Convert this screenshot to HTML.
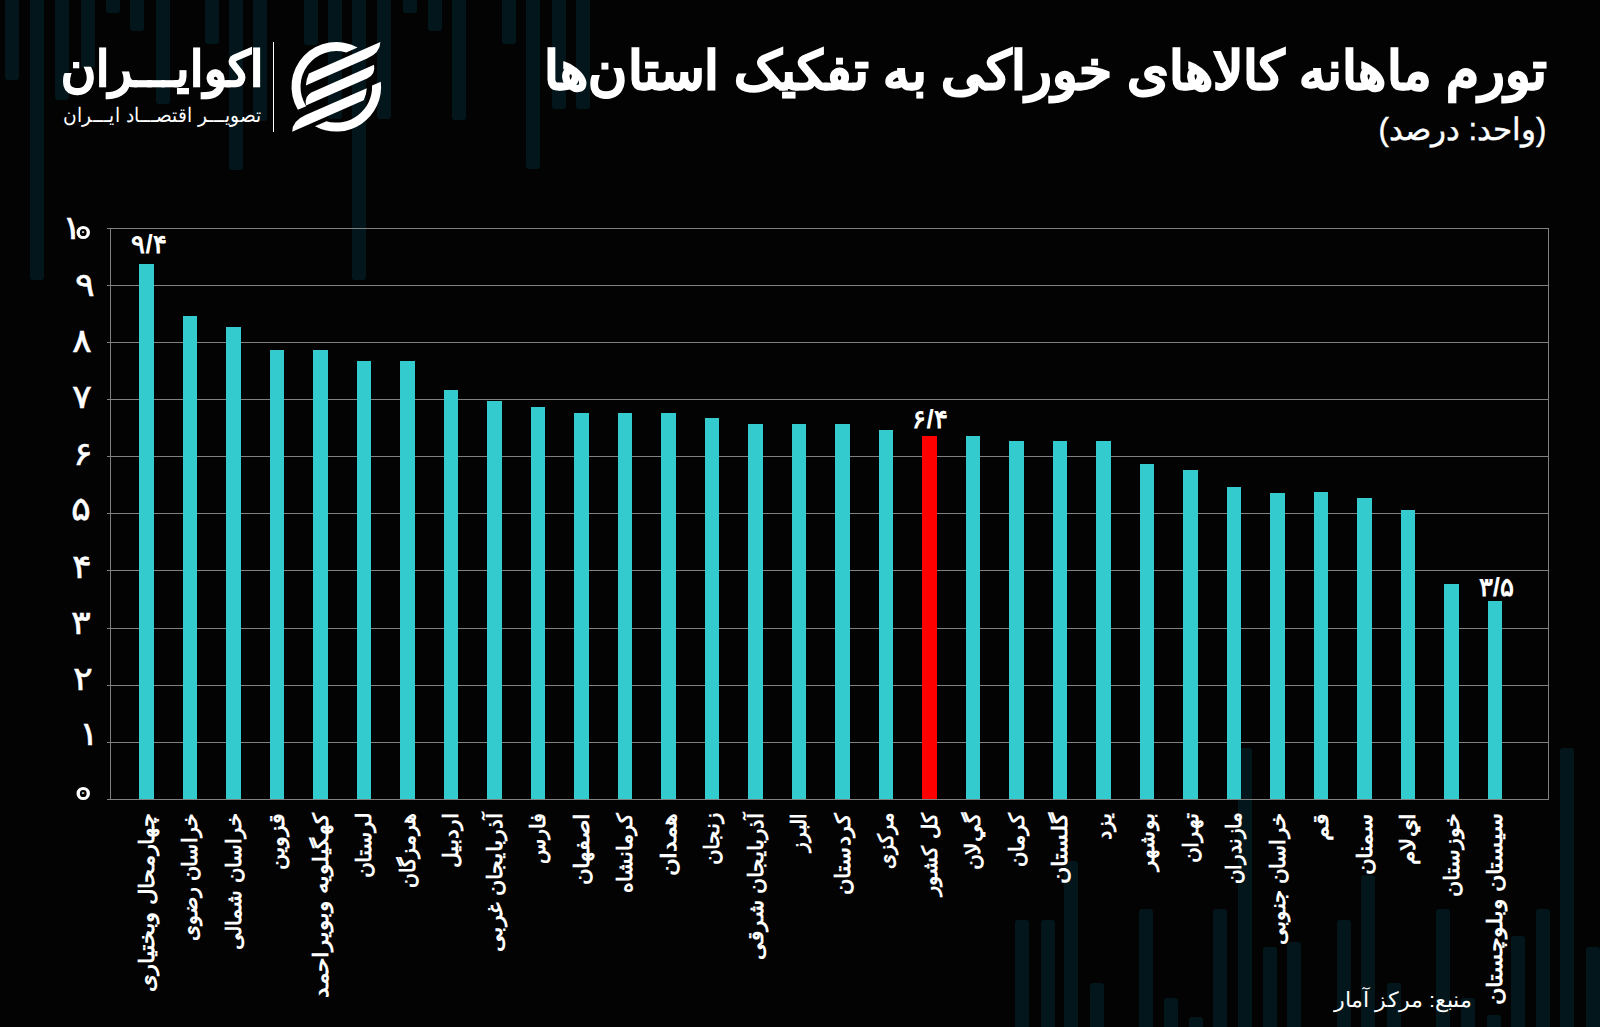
<!DOCTYPE html>
<html lang="fa"><head><meta charset="utf-8"><title>تورم ماهانه کالاهای خوراکی به تفکیک استان‌ها</title>
<style>
html,body{margin:0;padding:0;}
body{width:1600px;height:1027px;overflow:hidden;position:relative;background:#030303;font-family:"Liberation Sans",sans-serif;color:#fff;}
.a{position:absolute;}
.bgb{position:absolute;width:14px;background:#02161b;}
.bgt{top:0;border-radius:0 0 3px 3px;}
.bgu{bottom:0;border-radius:3px 3px 0 0;}
.gl{position:absolute;left:106.5px;width:1442.5px;height:1px;background:#808080;}
.ax{position:absolute;width:1px;top:228px;height:572px;background:#808080;}
.bar{position:absolute;width:14.4px;background:#33cbcd;}
.yl{position:absolute;font-size:33px;font-weight:normal;-webkit-text-stroke:0.5px #fff;line-height:30px;white-space:nowrap;transform-origin:100% 50%;transform:scaleX(1.12);}
.z{display:inline-block;box-sizing:border-box;width:12.3px;height:13px;border:3.3px solid #fff;border-radius:50%;color:transparent;font-size:10px;line-height:6px;overflow:hidden;vertical-align:baseline;}
.vl{position:absolute;font-size:26px;font-weight:bold;line-height:26px;white-space:nowrap;text-align:center;width:80px;}
.xl{position:absolute;top:813px;width:0;height:0;}
.xl span{position:absolute;right:0;top:-14px;height:28px;line-height:28px;font-size:21px;font-weight:bold;white-space:nowrap;direction:rtl;transform-origin:100% 50%;transform:rotate(-90deg);}
</style></head><body>

<div class="bgb bgt" style="left:5px;height:80px"></div>
<div class="bgb bgt" style="left:30px;height:280px"></div>
<div class="bgb bgt" style="left:55px;height:100px"></div>
<div class="bgb bgt" style="left:80.5px;height:68px"></div>
<div class="bgb bgt" style="left:106px;height:13px"></div>
<div class="bgb bgt" style="left:130px;height:31px"></div>
<div class="bgb bgt" style="left:155.5px;height:104px"></div>
<div class="bgb bgt" style="left:205px;height:44px"></div>
<div class="bgb bgt" style="left:229px;height:170px"></div>
<div class="bgb bgt" style="left:253px;height:121px"></div>
<div class="bgb bgt" style="left:304px;height:45px"></div>
<div class="bgb bgt" style="left:328px;height:119px"></div>
<div class="bgb bgt" style="left:352px;height:280px"></div>
<div class="bgb bgt" style="left:377px;height:119px"></div>
<div class="bgb bgt" style="left:403px;height:13px"></div>
<div class="bgb bgt" style="left:428px;height:31px"></div>
<div class="bgb bgt" style="left:452px;height:120px"></div>
<div class="bgb bgt" style="left:501.6px;height:44px"></div>
<div class="bgb bgt" style="left:525.6px;height:169px"></div>
<div class="bgb bgt" style="left:552px;height:109px"></div>
<div class="bgb bgt" style="left:576px;height:109px"></div>
<div class="bgb bgu" style="left:1015px;height:107px"></div>
<div class="bgb bgu" style="left:1040.5px;height:107px"></div>
<div class="bgb bgu" style="left:1064px;height:166px"></div>
<div class="bgb bgu" style="left:1090px;height:44px"></div>
<div class="bgb bgu" style="left:1139px;height:118px"></div>
<div class="bgb bgu" style="left:1164px;height:29px"></div>
<div class="bgb bgu" style="left:1188.6px;height:10px"></div>
<div class="bgb bgu" style="left:1212.5px;height:118px"></div>
<div class="bgb bgu" style="left:1238px;height:279px"></div>
<div class="bgb bgu" style="left:1263px;height:80px"></div>
<div class="bgb bgu" style="left:1287px;height:85px"></div>
<div class="bgb bgu" style="left:1337px;height:107px"></div>
<div class="bgb bgu" style="left:1361px;height:152px"></div>
<div class="bgb bgu" style="left:1387px;height:44px"></div>
<div class="bgb bgu" style="left:1436px;height:118px"></div>
<div class="bgb bgu" style="left:1461px;height:29px"></div>
<div class="bgb bgu" style="left:1487px;height:12px"></div>
<div class="bgb bgu" style="left:1511px;height:91px"></div>
<div class="bgb bgu" style="left:1536px;height:118px"></div>
<div class="bgb bgu" style="left:1560px;height:279px"></div>
<div class="bgb bgu" style="left:1586px;height:80px"></div>
<div class="a" style="left:273px;top:42px;width:1.3px;height:90px;background:#fff"></div>
<div id="lg1" class="a" dir="rtl" style="right:1336px;top:34px;transform-origin:100% 50%;transform:scaleX(0.973);font-size:49.3px;font-weight:bold;-webkit-text-stroke:1.2px #fff;line-height:70px;white-space:nowrap">اکوایـــران</div>
<div id="lg2" class="a" dir="rtl" style="right:1339px;top:98.5px;transform-origin:100% 50%;transform:scaleX(0.93);font-size:20.1px;line-height:32px;white-space:nowrap">تصویـــر اقتصـــاد ایـــران</div>
<svg class="a" style="left:0;top:0" width="420" height="150" viewBox="0 0 420 150"><g fill="#fff"><path d="M357.60,47.39 A44.8,44.8 0 0 0 297.85,109.79 L306.17,106.13 A35.8,35.8 0 0 1 346.20,52.40 Z"/><path d="M380.81,81.74 A44.8,44.8 0 0 1 315.00,126.21 L326.40,121.20 A35.8,35.8 0 0 0 372.08,85.59 Z"/><path d="M308.90,73.40 L380.37,41.95 Q380.29,52.70 367.02,58.54 L305.83,85.46 Q306.11,79.11 308.90,73.40 Z"/><path d="M311.90,92.18 L374.05,64.84 Q375.80,74.77 367.11,78.60 L305.96,105.50 Q304.12,95.61 311.90,92.18 Z"/><path d="M366.77,88.14 Q366.49,94.49 363.70,100.20 L292.23,131.65 Q292.31,120.90 305.58,115.06 Z"/></g></svg>

<div id="ttl" class="a" dir="rtl" style="right:53px;transform-origin:100% 50%;transform:scaleX(1.006);top:36px;font-size:52.9px;font-weight:bold;-webkit-text-stroke:1.3px #fff;line-height:70px;white-space:nowrap">تورم ماهانه کالاهای خوراکی به تفکیک استان‌ها</div>
<div id="sub" class="a" dir="rtl" style="right:53.5px;top:112px;font-size:31.2px;-webkit-text-stroke:0.4px #fff;line-height:36px;white-space:nowrap">(واحد: درصد)</div>

<div class="gl" style="top:798.90px"></div>
<div class="gl" style="top:741.77px"></div>
<div class="gl" style="top:684.64px"></div>
<div class="gl" style="top:627.51px"></div>
<div class="gl" style="top:570.38px"></div>
<div class="gl" style="top:513.25px"></div>
<div class="gl" style="top:456.12px"></div>
<div class="gl" style="top:398.99px"></div>
<div class="gl" style="top:341.86px"></div>
<div class="gl" style="top:284.73px"></div>
<div class="gl" style="top:227.60px"></div>
<div class="ax" style="left:109.6px"></div><div class="ax" style="left:1548.2px"></div>
<div id="y0" class="yl" style="right:1509.82px;top:774.25px"><span class="z">۰</span></div>
<div id="y1" class="yl" style="right:1501.25px;top:719.30px">۱</div>
<div id="y2" class="yl" style="right:1506.85px;top:663.90px">۲</div>
<div id="y3" class="yl" style="right:1509.25px;top:608.15px">۳</div>
<div id="y4" class="yl" style="right:1508.30px;top:552.05px">۴</div>
<div id="y5" class="yl" style="right:1508.75px;top:494.10px">۵</div>
<div id="y6" class="yl" style="right:1506.85px;top:438.70px">۶</div>
<div id="y7" class="yl" style="right:1508.20px;top:382.30px">۷</div>
<div id="y8" class="yl" style="right:1508.20px;top:326.10px">۸</div>
<div id="y9" class="yl" style="right:1505.35px;top:269.95px">۹</div>
<div id="y10" class="yl" style="right:1509.85px;top:213.40px">۱<span class="z" style="margin-left:-5px">۰</span></div>
<div class="bar" style="left:139.40px;top:264px;height:535.40px;background:#33cbcd"></div>
<div class="bar" style="left:182.90px;top:315.5px;height:483.90px;background:#33cbcd"></div>
<div class="bar" style="left:226.40px;top:327px;height:472.40px;background:#33cbcd"></div>
<div class="bar" style="left:269.90px;top:350px;height:449.40px;background:#33cbcd"></div>
<div class="bar" style="left:313.40px;top:350px;height:449.40px;background:#33cbcd"></div>
<div class="bar" style="left:356.90px;top:361px;height:438.40px;background:#33cbcd"></div>
<div class="bar" style="left:400.40px;top:361px;height:438.40px;background:#33cbcd"></div>
<div class="bar" style="left:443.90px;top:390px;height:409.40px;background:#33cbcd"></div>
<div class="bar" style="left:487.40px;top:401.25px;height:398.15px;background:#33cbcd"></div>
<div class="bar" style="left:530.90px;top:407px;height:392.40px;background:#33cbcd"></div>
<div class="bar" style="left:574.40px;top:412.5px;height:386.90px;background:#33cbcd"></div>
<div class="bar" style="left:617.90px;top:412.5px;height:386.90px;background:#33cbcd"></div>
<div class="bar" style="left:661.40px;top:412.5px;height:386.90px;background:#33cbcd"></div>
<div class="bar" style="left:704.90px;top:418.25px;height:381.15px;background:#33cbcd"></div>
<div class="bar" style="left:748.40px;top:424px;height:375.40px;background:#33cbcd"></div>
<div class="bar" style="left:791.90px;top:424px;height:375.40px;background:#33cbcd"></div>
<div class="bar" style="left:835.40px;top:424px;height:375.40px;background:#33cbcd"></div>
<div class="bar" style="left:878.90px;top:429.75px;height:369.65px;background:#33cbcd"></div>
<div class="bar" style="left:922.40px;top:435.5px;height:363.90px;background:#ff0000"></div>
<div class="bar" style="left:965.90px;top:435.5px;height:363.90px;background:#33cbcd"></div>
<div class="bar" style="left:1009.40px;top:441.25px;height:358.15px;background:#33cbcd"></div>
<div class="bar" style="left:1052.90px;top:441.25px;height:358.15px;background:#33cbcd"></div>
<div class="bar" style="left:1096.40px;top:441.25px;height:358.15px;background:#33cbcd"></div>
<div class="bar" style="left:1139.90px;top:464.25px;height:335.15px;background:#33cbcd"></div>
<div class="bar" style="left:1183.40px;top:470px;height:329.40px;background:#33cbcd"></div>
<div class="bar" style="left:1226.90px;top:487px;height:312.40px;background:#33cbcd"></div>
<div class="bar" style="left:1270.40px;top:492.5px;height:306.90px;background:#33cbcd"></div>
<div class="bar" style="left:1313.90px;top:492.25px;height:307.15px;background:#33cbcd"></div>
<div class="bar" style="left:1357.40px;top:498.1px;height:301.30px;background:#33cbcd"></div>
<div class="bar" style="left:1400.90px;top:510px;height:289.40px;background:#33cbcd"></div>
<div class="bar" style="left:1444.40px;top:584px;height:215.40px;background:#33cbcd"></div>
<div class="bar" style="left:1487.90px;top:601px;height:198.40px;background:#33cbcd"></div>
<div id="v0" class="vl" style="left:109.10px;top:231px">۹/۴</div>
<div id="v1" class="vl" style="left:890.10px;top:406px">۶/۴</div>
<div id="v2" class="vl" style="left:1456.40px;top:574px">۳/۵</div>
<div id="x0" class="xl" style="left:146.60px"><span style="transform:rotate(-90deg) scaleX(1.086)">چهارمحال وبختیاری</span></div>
<div id="x1" class="xl" style="left:190.10px"><span style="transform:rotate(-90deg) scaleX(0.977)">خراسان رضوی</span></div>
<div id="x2" class="xl" style="left:233.60px"><span style="transform:rotate(-90deg) scaleX(1.007)">خراسان شمالی</span></div>
<div id="x3" class="xl" style="left:277.10px"><span style="transform:rotate(-90deg) scaleX(1.057)">قزوین</span></div>
<div id="x4" class="xl" style="left:320.60px"><span style="transform:rotate(-90deg) scaleX(1.114)">کهگیلویه وبویراحمد</span></div>
<div id="x5" class="xl" style="left:364.10px"><span style="transform:rotate(-90deg) scaleX(1.033)">لرستان</span></div>
<div id="x6" class="xl" style="left:407.60px"><span style="transform:rotate(-90deg) scaleX(0.970)">هرمزگان</span></div>
<div id="x7" class="xl" style="left:451.10px"><span style="transform:rotate(-90deg) scaleX(1.043)">اردبیل</span></div>
<div id="x8" class="xl" style="left:494.60px"><span style="transform:rotate(-90deg) scaleX(1.062)">آذربایجان غربی</span></div>
<div id="x9" class="xl" style="left:538.10px"><span style="transform:rotate(-90deg) scaleX(0.986)">فارس</span></div>
<div id="x10" class="xl" style="left:581.60px"><span style="transform:rotate(-90deg) scaleX(1.090)">اصفهان</span></div>
<div id="x11" class="xl" style="left:625.10px"><span style="transform:rotate(-90deg) scaleX(0.982)">کرمانشاه</span></div>
<div id="x12" class="xl" style="left:668.60px"><span style="transform:rotate(-90deg) scaleX(1.150)">همدان</span></div>
<div id="x13" class="xl" style="left:712.10px"><span style="transform:rotate(-90deg) scaleX(1.026)">زنجان</span></div>
<div id="x14" class="xl" style="left:755.60px"><span style="transform:rotate(-90deg) scaleX(1.034)">آذربایجان شرقی</span></div>
<div id="x15" class="xl" style="left:799.10px"><span style="transform:rotate(-90deg) scaleX(0.965)">البرز</span></div>
<div id="x16" class="xl" style="left:842.60px"><span style="transform:rotate(-90deg) scaleX(1.074)">کردستان</span></div>
<div id="x17" class="xl" style="left:886.10px"><span style="transform:rotate(-90deg) scaleX(0.919)">مرکزی</span></div>
<div id="x18" class="xl" style="left:929.60px"><span style="transform:rotate(-90deg) scaleX(1.017)">کل کشور</span></div>
<div id="x19" class="xl" style="left:973.10px"><span style="transform:rotate(-90deg) scaleX(1.041)">گي‌لان</span></div>
<div id="x20" class="xl" style="left:1016.60px"><span style="transform:rotate(-90deg) scaleX(1.004)">کرمان</span></div>
<div id="x21" class="xl" style="left:1060.10px"><span style="transform:rotate(-90deg) scaleX(1.127)">گلستان</span></div>
<div id="x22" class="xl" style="left:1103.60px"><span style="transform:rotate(-90deg) scaleX(1.000)">یزد</span></div>
<div id="x23" class="xl" style="left:1147.10px"><span style="transform:rotate(-90deg) scaleX(1.017)">بوشهر</span></div>
<div id="x24" class="xl" style="left:1190.60px"><span style="transform:rotate(-90deg) scaleX(1.027)">تهران</span></div>
<div id="x25" class="xl" style="left:1234.10px"><span style="transform:rotate(-90deg) scaleX(0.943)">مازندران</span></div>
<div id="x26" class="xl" style="left:1277.60px"><span style="transform:rotate(-90deg) scaleX(1.016)">خراسان جنوبی</span></div>
<div id="x27" class="xl" style="left:1321.10px"><span style="transform:rotate(-90deg) scaleX(1.151)">قم</span></div>
<div id="x28" class="xl" style="left:1364.60px"><span style="transform:rotate(-90deg) scaleX(1.095)">سمنان</span></div>
<div id="x29" class="xl" style="left:1408.10px"><span style="transform:rotate(-90deg) scaleX(1.110)">اي‌لام</span></div>
<div id="x30" class="xl" style="left:1451.60px"><span style="transform:rotate(-90deg) scaleX(1.059)">خوزستان</span></div>
<div id="x31" class="xl" style="left:1495.10px"><span style="transform:rotate(-90deg) scaleX(1.135)">سیستان وبلوچستان</span></div>
<div id="src" class="a" dir="rtl" style="right:129px;top:985px;transform-origin:100% 50%;transform:scaleX(1.06);font-size:20.6px;line-height:30px;white-space:nowrap">منبع: مرکز آمار</div>
</body></html>
